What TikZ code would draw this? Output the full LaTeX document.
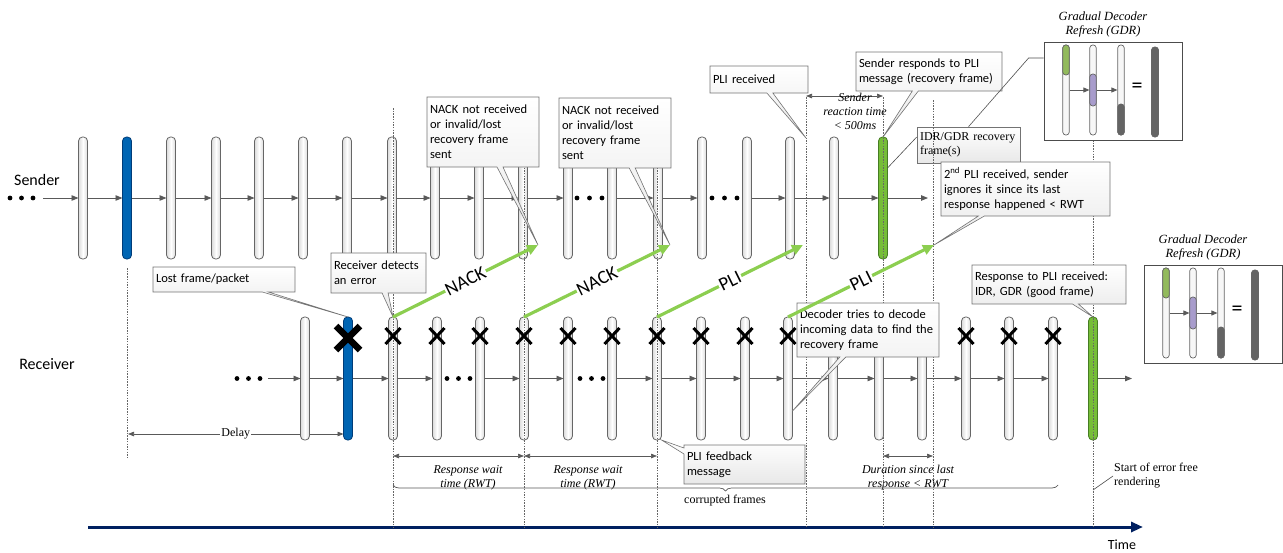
\documentclass[tikz,border=0pt]{standalone}
\usepackage{fontspec}
\setmainfont{Carlito}
\newfontfamily\serifo{Liberation Serif}
\usetikzlibrary{arrows.meta,shapes.callouts,decorations.pathreplacing}
\definecolor{nack}{RGB}{140,206,80}
\definecolor{gbar}{RGB}{118,189,56}
\definecolor{gbard}{RGB}{70,125,35}
\definecolor{bbar}{RGB}{0,101,179}
\definecolor{bbard}{RGB}{0,60,120}
\definecolor{navy}{RGB}{0,32,96}
\definecolor{gdrgreen}{RGB}{146,186,92}
\definecolor{gdrpurple}{RGB}{168,156,204}
\definecolor{gdrdark}{RGB}{100,100,100}
\tikzset{
  barbase/.style={draw=black!60, line width=0.8pt, rounded corners=4pt, minimum width=9pt, inner sep=0pt, outer sep=0pt},
  plainbar/.style={barbase, left color=black!14, right color=black!14, middle color=white},
  bluebar/.style={barbase, fill=bbar, draw=bbard},
  greenbar/.style={barbase, fill=gbar, draw=gbard},
  sh/.style={minimum height=122pt},
  rh/.style={minimum height=123pt},
  flow/.style={draw=black!65, line width=0.9pt, -{Triangle[length=7pt,width=5.5pt]}},
  flows/.style={draw=black!65, line width=0.8pt, -{Triangle[length=6pt,width=5pt]}},
  garrow/.style={draw=nack, line width=3.2pt, -{Triangle[length=11pt,width=10pt]}},
  glabel/.style={midway, sloped, fill=white, inner sep=1pt, font=\fontsize{19}{19}\selectfont},
  dim/.style={draw=black!65, line width=0.7pt, {Triangle[length=6pt,width=4.5pt]}-{Triangle[length=6pt,width=4.5pt]}},
  vguide/.style={draw=black!60, line width=0.6pt, dash pattern=on 1.5pt off 1.2pt},
  thinline/.style={draw=black!70, line width=0.6pt},
  cbox/.style={rectangle callout, draw=black!55, line width=0.6pt, top color=white, bottom color=black!9, align=left, inner xsep=3pt, inner ysep=2pt, callout pointer width=6pt, font=\fontsize{12.5}{15}\selectfont},
  plainbox/.style={rectangle, draw=black!55, line width=0.6pt, top color=white, bottom color=black!9, align=left, inner xsep=3pt, inner ysep=2pt},
  wh/.style n args={3}{minimum width=#1pt, minimum height=#2pt, text width=#3pt},
  sertext/.style={font=\serifo\fontsize{12}{14}\selectfont, align=center, inner sep=1pt},
  seritext/.style={font=\serifo\itshape\fontsize{12}{14}\selectfont, align=center, inner sep=1pt},
  gdrbox/.style={rectangle, draw=black!70, line width=0.8pt, fill=white, minimum width=138pt, minimum height=98pt},
  gbarw/.style={rectangle, draw=black!60, line width=0.7pt, fill=black!3, rounded corners=3pt, minimum width=6.5pt, minimum height=90pt, inner sep=0pt},
  gseg/.style={draw=black!60, line width=0.7pt, rounded corners=3pt},
  pics/xs/.style={code={\draw[line width=3pt] (-7.5,-8) -- (7.5,8) (-7.5,8) -- (7.5,-8);}},
  pics/xb/.style={code={\draw[line width=6.5pt] (-12,-12) -- (12,12) (-12,12) -- (12,-12);}},
}
\newcommand\gdrgroup[1]{%
  \node[gdrbox] (#1box) at (1113,91) {};
  \node[seritext, font=\serifo\itshape\fontsize{12.5}{14}\selectfont] (#1title) at (1103,24) {Gradual Decoder\\Refresh (GDR)};
  \node[gbarw] (#1a) at (1066,90) {};
  \node[gbarw] (#1b) at (1093,90) {};
  \node[gbarw] (#1c) at (1121,90) {};
  \node[gbarw, fill=gdrdark, minimum width=7pt] (#1d) at (1155,92) {};
  \draw[gseg, fill=gdrgreen] (1062.75,45) rectangle (1069.25,75);
  \draw[gseg, fill=gdrpurple] (1089.75,74) rectangle (1096.25,106);
  \draw[gseg, fill=gdrdark] (1117.75,104) rectangle (1124.25,135);
  \draw[flows] (#1a) -- (#1b);
  \draw[flows] (#1b) -- (#1c);
  \node[font=\fontsize{22}{22}\selectfont, inner sep=0pt] (#1eq) at (1137,88) {=};
}
\begin{document}
\begin{tikzpicture}[x=1pt,y=-1pt, font=\fontsize{12}{15}\selectfont]
\useasboundingbox (0,0) rectangle (1283,552);

% ---- labels
\node[font=\fontsize{16}{16}\selectfont] (sl) at (37,180) {Sender};
\node[font=\fontsize{16}{16}\selectfont] (rl) at (47,364) {Receiver};
\node[font=\fontsize{14}{14}\selectfont] (tl) at (1122,545) {Time};

% ---- dimension lines (behind bars)
\coordinate (dla) at (128,434);
\draw[dim] (dla) -- (348-4.5,434) node[midway, fill=white, sertext] (delay) {Delay};
\coordinate (rw1) at (393,456); \coordinate (rw2) at (524,456); \coordinate (rw3) at (657,456);
\draw[dim] (rw1) -- (rw2);
\draw[dim] (rw2) -- (rw3);
\coordinate (du1) at (883,456); \coordinate (du2) at (933,456);
\draw[dim] (du1) -- (du2);
\coordinate (sra) at (806,96); \coordinate (srb) at (883,96);
\draw[dim] (sra) -- (srb);

\node[seritext] (rwt1) at (468,478) {Response wait\\time (RWT)};
\node[seritext] (rwt2) at (588,478) {Response wait\\time (RWT)};
\node[seritext] (dur) at (908,478) {Duration since last\\response < RWT};
\node[seritext] (srt) at (855,111) {Sender\\reaction time\\< 500ms};

% ---- brace
\draw[draw=black!65, line width=0.7pt, decorate, decoration={brace, mirror, amplitude=6pt}] (393,485) -- (1058,485);
\node[sertext] (cf) at (725,501) {corrupted frames};
\node[sertext, align=left, anchor=west] (sefr) at (1113,476) {Start of error free\\rendering};
\coordinate (sefp) at (1093,490);
\draw[thinline] (sefp) -- (sefr.west);

% ---- time axis
\coordinate (tstart) at (88,527); \coordinate (tend) at (1143,527);
\draw[draw=navy, line width=3pt, -{Triangle[length=12pt,width=10pt]}] (tstart) -- (tend);

% ---- sender bars
\foreach \n/\x in {1/83,3/171,4/216,5/259,6/303,7/347,8/392,9/435,10/479,11/523,12/568,13/612,14/658,15/702,16/747,17/790,18/834}
  \node[plainbar, sh] (s\n) at (\x,198) {};
\node[bluebar, sh] (s2) at (127,198) {};
\node[greenbar, sh] (sg) at (883,198) {};
\coordinate (sstart) at (43,198);
\coordinate (send) at (928,198);
\draw[flow] (sstart) -- (s1);
\foreach \a/\b in {1/2,2/3,3/4,4/5,5/6,6/7,7/8,8/9,9/10,10/11,11/12,13/14,14/15,16/17,17/18}
  \draw[flow] (s\a) -- (s\b);
\draw[flow] (s18) -- (sg);
\draw[flow] (sg) -- (send);
\foreach \x in {10,21.5,33,577,589.5,602,712,724.5,737}
  \fill (\x,198) circle (2.4pt);

% ---- receiver bars
\foreach \n/\x in {1/305,3/393,4/437,5/480,6/524,7/568,8/612,9/657,10/701,11/745,12/788,13/833,14/879,15/922,16/966,17/1009,18/1053}
  \node[plainbar, rh] (r\n) at (\x,378.5) {};
\node[bluebar, rh] (r2) at (348,378.5) {};
\node[greenbar, rh] (rg) at (1093,378.5) {};
\coordinate (rstart) at (268,378.5);
\coordinate (rend) at (1132,378.5);
\draw[flow] (rstart) -- (r1);
\foreach \a/\b in {1/2,2/3,3/4,5/6,6/7,8/9,9/10,10/11,11/12,12/13,13/14,14/15,15/16,16/17,17/18}
  \draw[flow] (r\a) -- (r\b);
\draw[flow] (rg) -- (rend);
\foreach \x in {237,248.5,260,447,458.5,470,580,591.5,603}
  \fill (\x,378.5) circle (2.4pt);

% ---- vertical guides
\draw[vguide] (127,268) -- (127,458);
\draw[vguide] (393,108) -- (393,527);
\draw[vguide] (524,100) -- (524,527);
\draw[vguide] (657,100) -- (657,527);
\draw[vguide] (806,97) -- (806,527);
\draw[vguide] (883,97) -- (883,527);
\draw[vguide] (933,100) -- (933,527);
\draw[vguide] (1093,140) -- (1093,527);

% ---- crosses
\pic at (348,338) {xb};
\foreach \x in {393,437,480,524,568,612,657,701,745,788,966,1009,1053}
  \pic at (\x,336) {xs};

% ---- feedback end points
\coordinate (n1e) at (538,245);
\coordinate (n2e) at (670,245);
\coordinate (p1e) at (803,245);
\coordinate (p2e) at (934,245);
\coordinate (plirx) at (806,138);

% ---- callouts
\node[cbox, wh={142}{25}{136}, callout absolute pointer={(r2.north)}] (c1) at (224,279.5) {Lost frame/packet};
\node[cbox, wh={95}{40}{89}, callout absolute pointer={(r3.north)}] (c2) at (378.5,273) {Receiver detects\\an error};
\node[cbox, wh={112}{70}{106}, callout absolute pointer={(n1e)}] (c3) at (483,132) {NACK not received\\or invalid/lost\\recovery frame\\sent};
\node[cbox, wh={112}{70}{106}, callout absolute pointer={(n2e)}] (c4) at (615,133) {NACK not received\\or invalid/lost\\recovery frame\\sent};
\node[cbox, wh={98}{27}{92}, callout absolute pointer={(plirx)}] (c5) at (759,79.5) {PLI received};
\node[cbox, wh={146}{39}{140}, callout absolute pointer={(sg.north)}] (c6) at (929,71.5) {Sender responds to PLI\\message (recovery frame)};
\node[plainbox, wh={103}{36}{97}, font=\serifo\fontsize{12}{14}\selectfont] (idr) at (968.5,145) {IDR/GDR recovery\\frame(s)};
\draw[vguide] (933,127) -- (933,163);
\draw[thinline] ([yshift=8pt]idr.west) -- (sg.east |- 0,168);
\node[cbox, wh={169}{54}{163}, callout absolute pointer={(p2e)}] (c8) at (1025.5,189) {2\textsuperscript{nd} PLI received, sender\\ignores it since its last\\response happened < RWT};
\node[cbox, wh={142}{54}{136}, callout absolute pointer={(r12.east |- 0,411)}] (c9) at (868,330) {Decoder tries to decode\\incoming data to find the\\recovery frame};
\node[cbox, wh={121}{39}{115}, callout absolute pointer={(r9.south east)}] (c10) at (744.5,464.5) {PLI feedback\\message};
\node[cbox, wh={154}{39}{148}, callout absolute pointer={(rg.north)}] (c11) at (1049,284.5) {Response to PLI received:\\IDR, GDR (good frame)};

% ---- GDR boxes
\gdrgroup{g1}
\begin{scope}[shift={(100,223)}]
\gdrgroup{g2}
\end{scope}
\draw[thinline] (g1box.west |- 0,58) -- ++(-15,0) -- (idr.north);

% ---- feedback arrows
\draw[garrow] (r3.north) -- (n1e) node[glabel] (lb1) {NACK};
\draw[garrow] (r6.north) -- (n2e) node[glabel] (lb2) {NACK};
\draw[garrow] (r9.north) -- (p1e) node[glabel] (lb3) {PLI};
\draw[garrow] (r12.north) -- (p2e) node[glabel] (lb4) {PLI};
\end{tikzpicture}
\end{document}
